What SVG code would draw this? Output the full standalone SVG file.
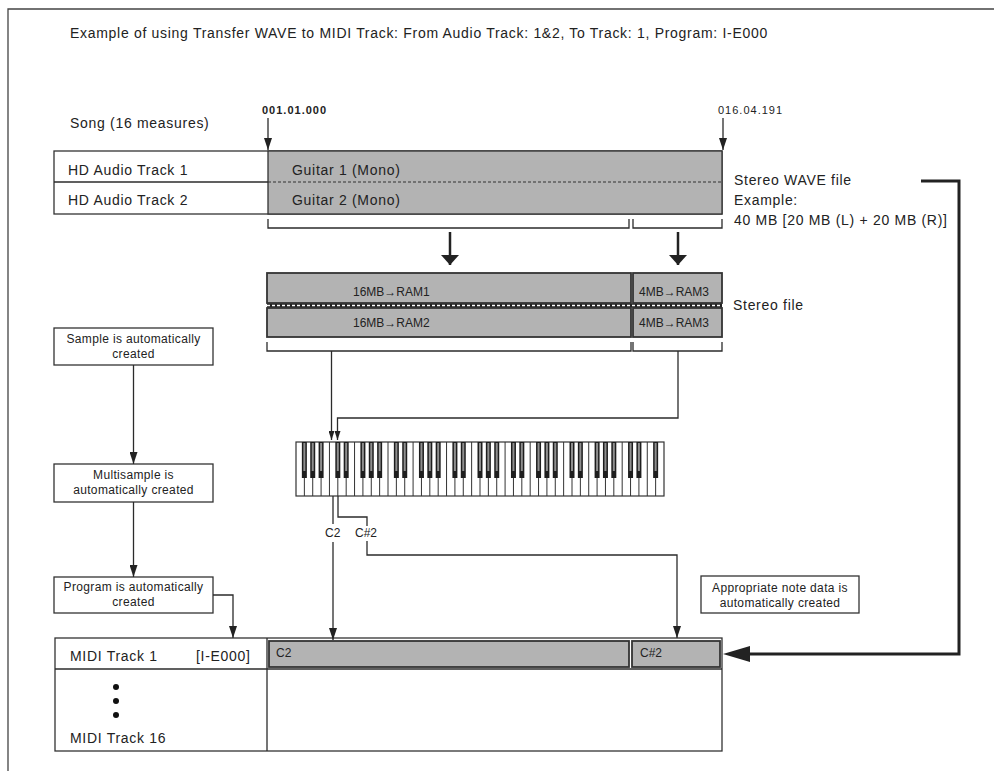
<svg xmlns="http://www.w3.org/2000/svg" xmlns:xlink="http://www.w3.org/1999/xlink" width="994" height="771" viewBox="0 0 994 771">
<style>
text{font-family:"Liberation Sans",Arial,Helvetica,sans-serif;fill:#222}
.t15{font-size:14px;letter-spacing:0.7px}
.t12{font-size:12px;letter-spacing:0.35px}
.t11{font-size:12px}
.ln{fill:none;stroke:#2b2b2b;stroke-width:1.3}
.thk{fill:none;stroke:#222;stroke-width:3}
.box{fill:#fff;stroke:#333;stroke-width:1.3}
.gray{fill:#b3b3b3;stroke:#333;stroke-width:1.8}
.mid{text-anchor:middle}
</style>
<defs>
<marker id="ah" markerUnits="userSpaceOnUse" markerWidth="12" markerHeight="8" refX="12" refY="4" orient="auto"><path d="M0,0 L12,4 L0,8 z" fill="#222"/></marker>
<marker id="as" markerUnits="userSpaceOnUse" markerWidth="9" markerHeight="6" refX="9" refY="3" orient="auto"><path d="M0,0 L9,3 L0,6 z" fill="#222"/></marker>
<marker id="ab" markerUnits="userSpaceOnUse" markerWidth="10" markerHeight="18" refX="10" refY="9" orient="auto"><path d="M0,0 L10,9 L0,18 z" fill="#222"/></marker>
<g id="bk"><rect x="-2.5" y="0" width="5" height="36" fill="#1e1e1e"/><rect x="-1" y="1" width="2" height="28" fill="#8f8f8f"/></g>
</defs>

<rect width="994" height="771" fill="#fff"/>
<path d="M8 771 V9 H994" fill="none" stroke="#444" stroke-width="1.3"/>

<text x="70" y="38" class="t15">Example of using Transfer WAVE to MIDI Track: From Audio Track: 1&amp;2, To Track: 1, Program: I-E000</text>
<text x="70" y="128" class="t15">Song (16 measures)</text>
<text x="262" y="114" style="font-size:11px;font-weight:bold;letter-spacing:1px">001.01.000</text>
<text x="718" y="114" style="font-size:11px;letter-spacing:1px">016.04.191</text>

<g id="audio-tracks">
<rect x="54" y="151" width="668" height="63" class="box"/>
<rect x="268" y="151" width="454" height="63" fill="#b3b3b3" stroke="#333" stroke-width="1.3"/>
<line x1="54" y1="182" x2="268" y2="182" class="ln"/>
<line x1="268" y1="182" x2="722" y2="182" stroke="#333" stroke-width="1.2" stroke-dasharray="3 2"/>
<text x="68" y="175" class="t15">HD Audio Track 1</text>
<text x="68" y="205" class="t15">HD Audio Track 2</text>
<text x="292" y="175" class="t15">Guitar 1 (Mono)</text>
<text x="292" y="205" class="t15">Guitar 2 (Mono)</text>
</g>

<g id="stereo-wave-label">
<text x="734" y="185" class="t15">Stereo WAVE file</text>
<text x="734" y="205" class="t15">Example:</text>
<text x="734" y="225" class="t15">40 MB [20 MB (L) + 20 MB (R)]</text>
</g>

<g id="ram-blocks">
<rect x="267" y="273" width="364" height="30" class="gray"/>
<rect x="633" y="273" width="89" height="30" class="gray"/>
<rect x="267" y="308" width="364" height="29" class="gray"/>
<rect x="633" y="308" width="89" height="29" class="gray"/>
<line x1="267" y1="305.5" x2="722" y2="305.5" stroke="#222" stroke-width="4"/>
<line x1="267" y1="305.5" x2="722" y2="305.5" stroke="#fff" stroke-width="1.5" stroke-dasharray="3 2"/>
<text x="353" y="296" class="t11">16MB→RAM1</text>
<text x="639" y="296" class="t11">4MB→RAM3</text>
<text x="353" y="327" class="t11">16MB→RAM2</text>
<text x="639" y="327" class="t11">4MB→RAM3</text>
<text x="733" y="310" class="t15">Stereo file</text>
</g>

<g id="keyboard">
<rect x="296" y="442" width="368" height="54" fill="#fff" stroke="#333" stroke-width="1.2"/>
<path d="M304.36 442V496M312.73 442V496M321.09 442V496M329.45 442V496M337.82 442V496M346.18 442V496M354.55 442V496M362.91 442V496M371.27 442V496M379.64 442V496M388 442V496M396.36 442V496M404.73 442V496M413.09 442V496M421.45 442V496M429.82 442V496M438.18 442V496M446.55 442V496M454.91 442V496M463.27 442V496M471.64 442V496M480 442V496M488.36 442V496M496.73 442V496M505.09 442V496M513.45 442V496M521.82 442V496M530.18 442V496M538.55 442V496M546.91 442V496M555.27 442V496M563.64 442V496M572 442V496M580.36 442V496M588.73 442V496M597.09 442V496M605.45 442V496M613.82 442V496M622.18 442V496M630.55 442V496M638.91 442V496M647.27 442V496M655.64 442V496" stroke="#333" stroke-width="1"/>
<use xlink:href="#bk" x="304.36" y="442"/><use xlink:href="#bk" x="312.73" y="442"/><use xlink:href="#bk" x="321.09" y="442"/>
<use xlink:href="#bk" x="337.82" y="442"/><use xlink:href="#bk" x="346.18" y="442"/>
<use xlink:href="#bk" x="362.91" y="442"/><use xlink:href="#bk" x="371.27" y="442"/><use xlink:href="#bk" x="379.64" y="442"/>
<use xlink:href="#bk" x="396.36" y="442"/><use xlink:href="#bk" x="404.73" y="442"/>
<use xlink:href="#bk" x="421.45" y="442"/><use xlink:href="#bk" x="429.82" y="442"/><use xlink:href="#bk" x="438.18" y="442"/>
<use xlink:href="#bk" x="454.91" y="442"/><use xlink:href="#bk" x="463.27" y="442"/>
<use xlink:href="#bk" x="480" y="442"/><use xlink:href="#bk" x="488.36" y="442"/><use xlink:href="#bk" x="496.73" y="442"/>
<use xlink:href="#bk" x="513.45" y="442"/><use xlink:href="#bk" x="521.82" y="442"/>
<use xlink:href="#bk" x="538.55" y="442"/><use xlink:href="#bk" x="546.91" y="442"/><use xlink:href="#bk" x="555.27" y="442"/>
<use xlink:href="#bk" x="572" y="442"/><use xlink:href="#bk" x="580.36" y="442"/>
<use xlink:href="#bk" x="597.09" y="442"/><use xlink:href="#bk" x="605.45" y="442"/><use xlink:href="#bk" x="613.82" y="442"/>
<use xlink:href="#bk" x="630.55" y="442"/><use xlink:href="#bk" x="638.91" y="442"/>
<use xlink:href="#bk" x="655.64" y="442"/>
<text x="325" y="537" class="t12" style="letter-spacing:0">C2</text>
<text x="355" y="537" class="t12" style="letter-spacing:0">C#2</text>
</g>

<g id="sample-box">
<rect x="54" y="328" width="159" height="37" class="box"/>
<text x="133.5" y="343" class="t12 mid">Sample is automatically</text>
<text x="133.5" y="358" class="t12 mid">created</text>
</g>
<g id="multisample-box">
<rect x="54" y="464" width="159" height="38" class="box"/>
<text x="133.5" y="479" class="t12 mid">Multisample is</text>
<text x="133.5" y="494" class="t12 mid">automatically created</text>
</g>
<g id="program-box">
<rect x="54" y="577" width="159" height="36" class="box"/>
<text x="133.5" y="591" class="t12 mid">Program is automatically</text>
<text x="133.5" y="606" class="t12 mid">created</text>
</g>
<g id="note-data-box">
<rect x="701" y="576" width="158" height="37" class="box"/>
<text x="780" y="592" class="t12 mid">Appropriate note data is</text>
<text x="780" y="607" class="t12 mid">automatically created</text>
</g>

<g id="midi-tracks">
<rect x="55" y="638" width="667" height="113" class="box"/>
<line x1="267" y1="638" x2="267" y2="751" class="ln"/>
<line x1="55" y1="669" x2="722" y2="669" class="ln"/>
<rect x="269" y="641" width="360" height="26" class="gray"/>
<rect x="632" y="641" width="88" height="26" class="gray"/>
<text x="70" y="661" class="t15">MIDI Track 1</text>
<text x="196" y="661" class="t15">[I-E000]</text>
<circle cx="116" cy="687" r="3" fill="#111"/>
<circle cx="116" cy="701" r="3" fill="#111"/>
<circle cx="116" cy="715" r="3" fill="#111"/>
<text x="70" y="743" class="t15">MIDI Track 16</text>
<text x="276" y="657" class="t11">C2</text>
<text x="640" y="657" class="t11">C#2</text>
</g>

<g id="connectors">
<line x1="268" y1="118" x2="268" y2="150" class="ln" marker-end="url(#ah)"/>
<line x1="723" y1="118" x2="723" y2="150" class="ln" marker-end="url(#ah)"/>
<path d="M268 219V228H629V219M633 219V228H722V219" class="ln"/>
<line x1="450" y1="232" x2="450" y2="265" stroke="#222" stroke-width="2.5" marker-end="url(#ab)"/>
<line x1="678" y1="232" x2="678" y2="265" stroke="#222" stroke-width="2.5" marker-end="url(#ab)"/>
<path d="M267 342V351H631V342M633 342V351H722V342" class="ln"/>
<line x1="331.5" y1="351" x2="331.5" y2="440" class="ln" marker-end="url(#as)"/>
<path d="M678 351V418H337.5V440" class="ln" marker-end="url(#as)"/>
<line x1="333" y1="496" x2="333" y2="524" class="ln"/>
<path d="M338 496V517H367V526" class="ln"/>
<line x1="333" y1="542" x2="333" y2="640" class="ln" marker-end="url(#ah)"/>
<path d="M367 541V555H677V638" class="ln" marker-end="url(#ah)"/>
<line x1="133.5" y1="365" x2="133.5" y2="464" class="ln" marker-end="url(#ah)"/>
<line x1="133.5" y1="502" x2="133.5" y2="577" class="ln" marker-end="url(#ah)"/>
<path d="M213 595H233V638" class="ln" marker-end="url(#ah)"/>
<path d="M921 181H959V654H748" class="thk"/>
<polygon points="723,654 750,646 750,662" fill="#222"/>
</g>
</svg>
